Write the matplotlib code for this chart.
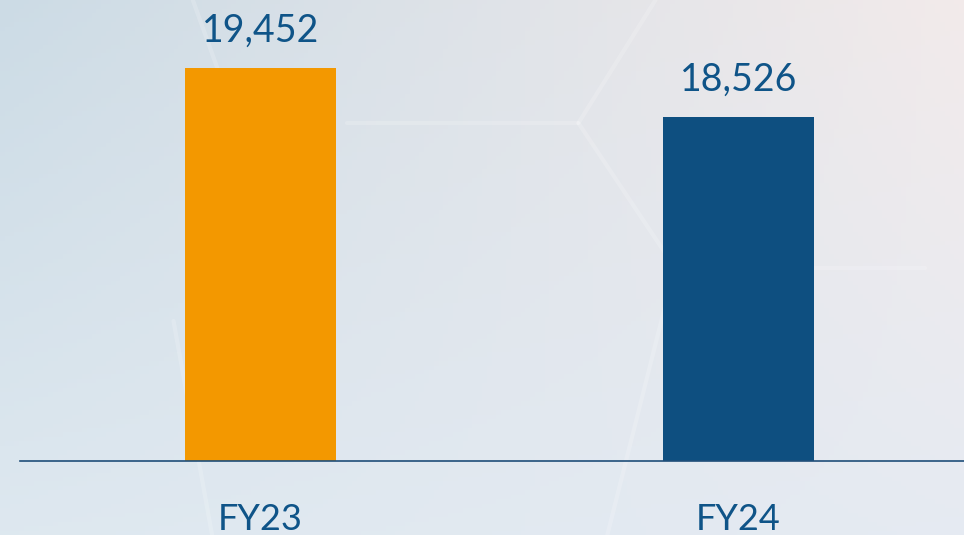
import matplotlib
matplotlib.use("Agg")
import matplotlib.pyplot as plt
import numpy as np

categories = ["FY23", "FY24"]
values = [19452, 18526]
value_labels = ["19,452", "18,526"]

bar_colors = ["#F39800", "#0E4F80"]
text_color = "#0F5488"
font = ["Lato", "DejaVu Sans"]

W, H = 964, 535
fig = plt.figure(figsize=(W / 100, H / 100), dpi=100)

# background gradient
bg = fig.add_axes([0, 0, 1, 1])
bg.set_axis_off()
nx, ny = 200, 120
xx, yy = np.meshgrid(np.linspace(0, 1, nx), np.linspace(0, 1, ny))
c_tl = np.array([0.80, 0.86, 0.90])
c_tr = np.array([0.95, 0.92, 0.92])
c_bl = np.array([0.87, 0.91, 0.94])
c_br = np.array([0.90, 0.92, 0.95])
img = (c_tl[None, None, :] * ((1 - xx) * (1 - yy))[..., None]
       + c_tr[None, None, :] * (xx * (1 - yy))[..., None]
       + c_bl[None, None, :] * ((1 - xx) * yy)[..., None]
       + c_br[None, None, :] * (xx * yy)[..., None])
bg.imshow(img, extent=[0, 1, 0, 1], aspect="auto", origin="upper")
# faint hexagon lines
hex_lines = [
    [(0.36, 0.77), (0.60, 0.77)],
    [(0.60, 0.77), (0.68, 1.0)],
    [(0.60, 0.77), (0.70, 0.50)],
    [(0.70, 0.50), (0.96, 0.50)],
    [(0.70, 0.50), (0.63, 0.0)],
    [(0.20, 1.0), (0.23, 0.85)],
    [(0.18, 0.40), (0.22, 0.0)],
]
for (x0, y0), (x1, y1) in hex_lines:
    bg.plot([x0, x1], [y0, y1], color="white", alpha=0.18, lw=3, solid_capstyle="round")
bg.set_xlim(0, 1)
bg.set_ylim(0, 1)

# main axes
ax_left = 20 / W
ax_bottom = (H - 461) / H
ax = fig.add_axes([ax_left, ax_bottom, 1 - ax_left, 1 - ax_bottom])
ax.patch.set_alpha(0)
x = np.arange(len(categories))
ax.bar(x, values, width=0.316, color=bar_colors, zorder=2)
ax.set_xlim(-0.503, 1.472)
ax.set_ylim(12025, 20737)

for xi, v, lab in zip(x, values, value_labels):
    ax.annotate(lab, (xi, v), xytext=(0, 14), textcoords="offset points",
                ha="center", va="bottom", fontsize=27, color=text_color, family=font)

for s in ["top", "right", "left"]:
    ax.spines[s].set_visible(False)
ax.spines["bottom"].set_color("#1F4E79")
ax.spines["bottom"].set_linewidth(1.2)
ax.set_yticks([])
ax.set_xticks(x)
ax.set_xticklabels(categories, fontsize=26, color=text_color, family=font)
ax.tick_params(axis="x", length=0, pad=30)

fig.savefig("out.png", dpi=100)
